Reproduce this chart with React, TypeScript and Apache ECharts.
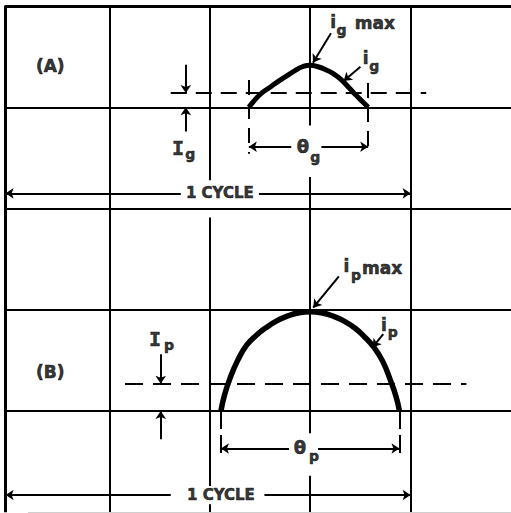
import React, { useEffect, useRef } from "react";
import * as echarts from "echarts";

// Units: x in electrical degrees (0 = crest of the pulses, grid every 90°),
// y in grid divisions (panel B zero line = 0, panel A zero line = 3).
const gridDegrees = [-180, -90, 0, 90];
const gridDivisions = [4, 3, 2, 1, 0];
const frameDegree = -273;
const rightEdgeDegree = 180;
const bottomDivision = -1;
const topDivision = 4;

const baselineA = 3;
const baselineB = 0;

// (A) grid current pulse i_g
const angleA = [-55, -49, -43, -35, -28, -21, -14, -7, 0, 7, 14, 21, 28, 35, 41, 47, 52];
const igValues = [0, 0.08, 0.145, 0.205, 0.26, 0.31, 0.36, 0.4, 0.415, 0.4, 0.37, 0.33, 0.27, 0.19, 0.12, 0.055, 0];
const IgLevel = 0.14;
const thetaGStart = -55;
const thetaGEnd = 52;

// (B) plate current pulse i_p
const angleB = [-80, -77, -72, -65, -57, -48, -40, -30, -20, -10, 0, 10, 20, 30, 40, 48, 57, 65, 72, 77, 80];
const ipValues = [0, 0.15, 0.32, 0.5, 0.65, 0.75, 0.82, 0.89, 0.94, 0.97, 0.98, 0.97, 0.94, 0.89, 0.82, 0.74, 0.63, 0.49, 0.3, 0.14, 0];
const IpLevel = 0.27;
const thetaPStart = -80;
const thetaPEnd = 80;

const cycleEndDegree = 90;

const SANS = "'DejaVu Sans', 'Liberation Sans', sans-serif";
const MONO = "'DejaVu Sans Mono', monospace";
const INK = "#000";

type Seg = [number, number, number, number];

function buildOption() {
  // ---- grid / frame lines (solid)
  const verticalRuns: { x: number; runs: [number, number][] }[] = [
    { x: frameDegree, runs: [[topDivision, bottomDivision]] },
    { x: gridDegrees[0], runs: [[topDivision, bottomDivision]] },
    { x: gridDegrees[1], runs: [[topDivision, 2.28], [1.91, -0.74], [-0.92, bottomDivision]] },
    { x: gridDegrees[2], runs: [[topDivision, 2.82], [2.31, -0.22], [-0.64, bottomDivision]] },
    { x: gridDegrees[3], runs: [[topDivision, bottomDivision]] },
  ];
  const solid: any[] = [];
  verticalRuns.forEach((v) =>
    v.runs.forEach(([a, b]) =>
      solid.push({
        coords: [[v.x, a], [v.x, b]],
        lineStyle: { width: v.x === frameDegree ? 3 : 2 },
      })
    )
  );
  gridDivisions.forEach((d) =>
    solid.push({
      coords: [[frameDegree - 1, d], [rightEdgeDegree, d]],
      lineStyle: { width: d === topDivision ? 3 : 2 },
    })
  );
  solid.push({
    coords: [[frameDegree + 20, bottomDivision], [rightEdgeDegree, bottomDivision]],
    lineStyle: { width: 1, color: "#cfcfcf" },
  });

  // ---- dashed lines
  const dashed: any[] = [
    { coords: [[-125, baselineA + IgLevel], [104, baselineA + IgLevel]], lineStyle: { type: [16, 9] } },
    { coords: [[-166, baselineB + IpLevel], [140, baselineB + IpLevel]], lineStyle: { type: [18, 10] } },
    { coords: [[thetaGStart, 3.27], [thetaGStart, 2.54]], lineStyle: { type: [15, 9] } },
    { coords: [[thetaGEnd, 3.24], [thetaGEnd, 2.54]], lineStyle: { type: [15, 9] } },
    { coords: [[thetaPStart, baselineB], [thetaPStart, -0.46]], lineStyle: { type: [18, 6] } },
    { coords: [[thetaPEnd, baselineB], [thetaPEnd, -0.46]], lineStyle: { type: [18, 6] } },
  ];

  // ---- arrows (head at the second point)
  const arrowSegs: Seg[] = [
    [-111.5, 3.42, -111.5, baselineA + IgLevel],
    [-111.5, 2.76, -111.5, baselineA],
    [-134, 0.56, -134, baselineB + IpLevel],
    [-134, -0.28, -134, baselineB],
    [-17, 2.61, thetaGStart, 2.61],
    [10, 2.61, thetaGEnd, 2.61],
    [-19, -0.37, thetaPStart, -0.37],
    [7, -0.37, thetaPEnd, -0.37],
    [-116, 2.15, frameDegree, 2.15],
    [-46, 2.15, cycleEndDegree, 2.15],
    [-125, -0.83, frameDegree, -0.83],
    [-41, -0.83, cycleEndDegree, -0.83],
    [18.6, 3.73, 2.5, 3.44],
    [45, 3.4, 30, 3.26],
    [25.7, 1.33, 2.7, 1.02],
    [65.5, 0.76, 56, 0.63],
  ];
  const arrows = arrowSegs.map(([x1, y1, x2, y2]) => ({ coords: [[x1, y1], [x2, y2]] }));

  // ---- text annotations
  const labels: { t: string; x: number; y: number; s: number; f?: string }[] = [
    { t: "(A)", x: -233, y: 3.41, s: 17 },
    { t: "(B)", x: -233, y: 0.39, s: 17 },
    { t: "1 CYCLE", x: -81, y: 2.15, s: 15 },
    { t: "1 CYCLE", x: -80, y: -0.83, s: 15 },
    { t: "i", x: 20.5, y: 3.84, s: 17 },
    { t: "g", x: 28, y: 3.76, s: 14 },
    { t: "max", x: 58, y: 3.83, s: 17 },
    { t: "i", x: 49.6, y: 3.49, s: 17 },
    { t: "g", x: 57.5, y: 3.41, s: 14 },
    { t: "i", x: 32.5, y: 1.43, s: 17 },
    { t: "p", x: 41, y: 1.34, s: 14 },
    { t: "max", x: 64.5, y: 1.41, s: 17 },
    { t: "i", x: 66, y: 0.85, s: 17 },
    { t: "p", x: 74, y: 0.78, s: 14 },
    { t: "I", x: -118.6, y: 2.6, s: 20, f: MONO },
    { t: "g", x: -107.5, y: 2.54, s: 14 },
    { t: "I", x: -139, y: 0.71, s: 20, f: MONO },
    { t: "p", x: -126.6, y: 0.65, s: 14 },
    { t: "θ", x: -6.5, y: 2.61, s: 18 },
    { t: "g", x: 4.5, y: 2.51, s: 14 },
    { t: "θ", x: -9.3, y: -0.365, s: 18 },
    { t: "p", x: 3.5, y: -0.44, s: 14 },
  ];

  return {
    animation: false,
    backgroundColor: "#ffffff",
    grid: { left: 9, top: 6, width: 508.33, height: 506.25, containLabel: false },
    xAxis: { type: "value", min: -270, max: 180, show: false },
    yAxis: { type: "value", min: -1, max: 4, show: false },
    series: [
      {
        type: "lines",
        coordinateSystem: "cartesian2d",
        clip: false,
        silent: true,
        symbol: "none",
        lineStyle: { color: INK, width: 2, opacity: 1, curveness: 0 },
        data: solid,
      },
      {
        type: "lines",
        coordinateSystem: "cartesian2d",
        clip: false,
        silent: true,
        symbol: "none",
        lineStyle: { color: INK, width: 2, opacity: 1, curveness: 0 },
        data: dashed,
      },
      {
        type: "lines",
        coordinateSystem: "cartesian2d",
        clip: false,
        silent: true,
        symbol: ["none", "arrow"],
        symbolSize: 8,
        lineStyle: { color: INK, width: 2, opacity: 1, curveness: 0 },
        data: arrows,
      },
      {
        type: "line",
        clip: false,
        silent: true,
        smooth: true,
        showSymbol: false,
        lineStyle: { color: INK, width: 5 },
        data: angleA.map((a, i) => [a, baselineA + igValues[i]]),
      },
      {
        type: "line",
        clip: false,
        silent: true,
        smooth: true,
        showSymbol: false,
        lineStyle: { color: INK, width: 5.5 },
        data: angleB.map((a, i) => [a, baselineB + ipValues[i]]),
      },
      {
        type: "scatter",
        clip: false,
        silent: true,
        symbol: "circle",
        symbolSize: 1,
        itemStyle: { color: "rgba(0,0,0,0)" },
        label: { show: true, position: "inside", color: INK, fontWeight: "bold", fontFamily: SANS },
        data: labels.map((l) => ({
          value: [l.x, l.y],
          label: {
            show: true,
            position: "inside",
            formatter: l.t,
            fontSize: l.s,
            fontFamily: l.f || SANS,
            fontWeight: "bold",
            color: INK,
            textBorderColor: INK,
            textBorderWidth: 0.6,
          },
        })),
      },
    ],
  };
}

export default function App() {
  const ref = useRef<HTMLDivElement>(null);
  useEffect(() => {
    if (!ref.current) return;
    const chart = echarts.init(ref.current, null, { renderer: "svg" });
    chart.setOption(buildOption() as any);
    return () => chart.dispose();
  }, []);
  return (
    <div
      ref={ref}
      style={{ position: "absolute", left: 0, top: 0, width: 511, height: 513, background: "#fff" }}
    />
  );
}
